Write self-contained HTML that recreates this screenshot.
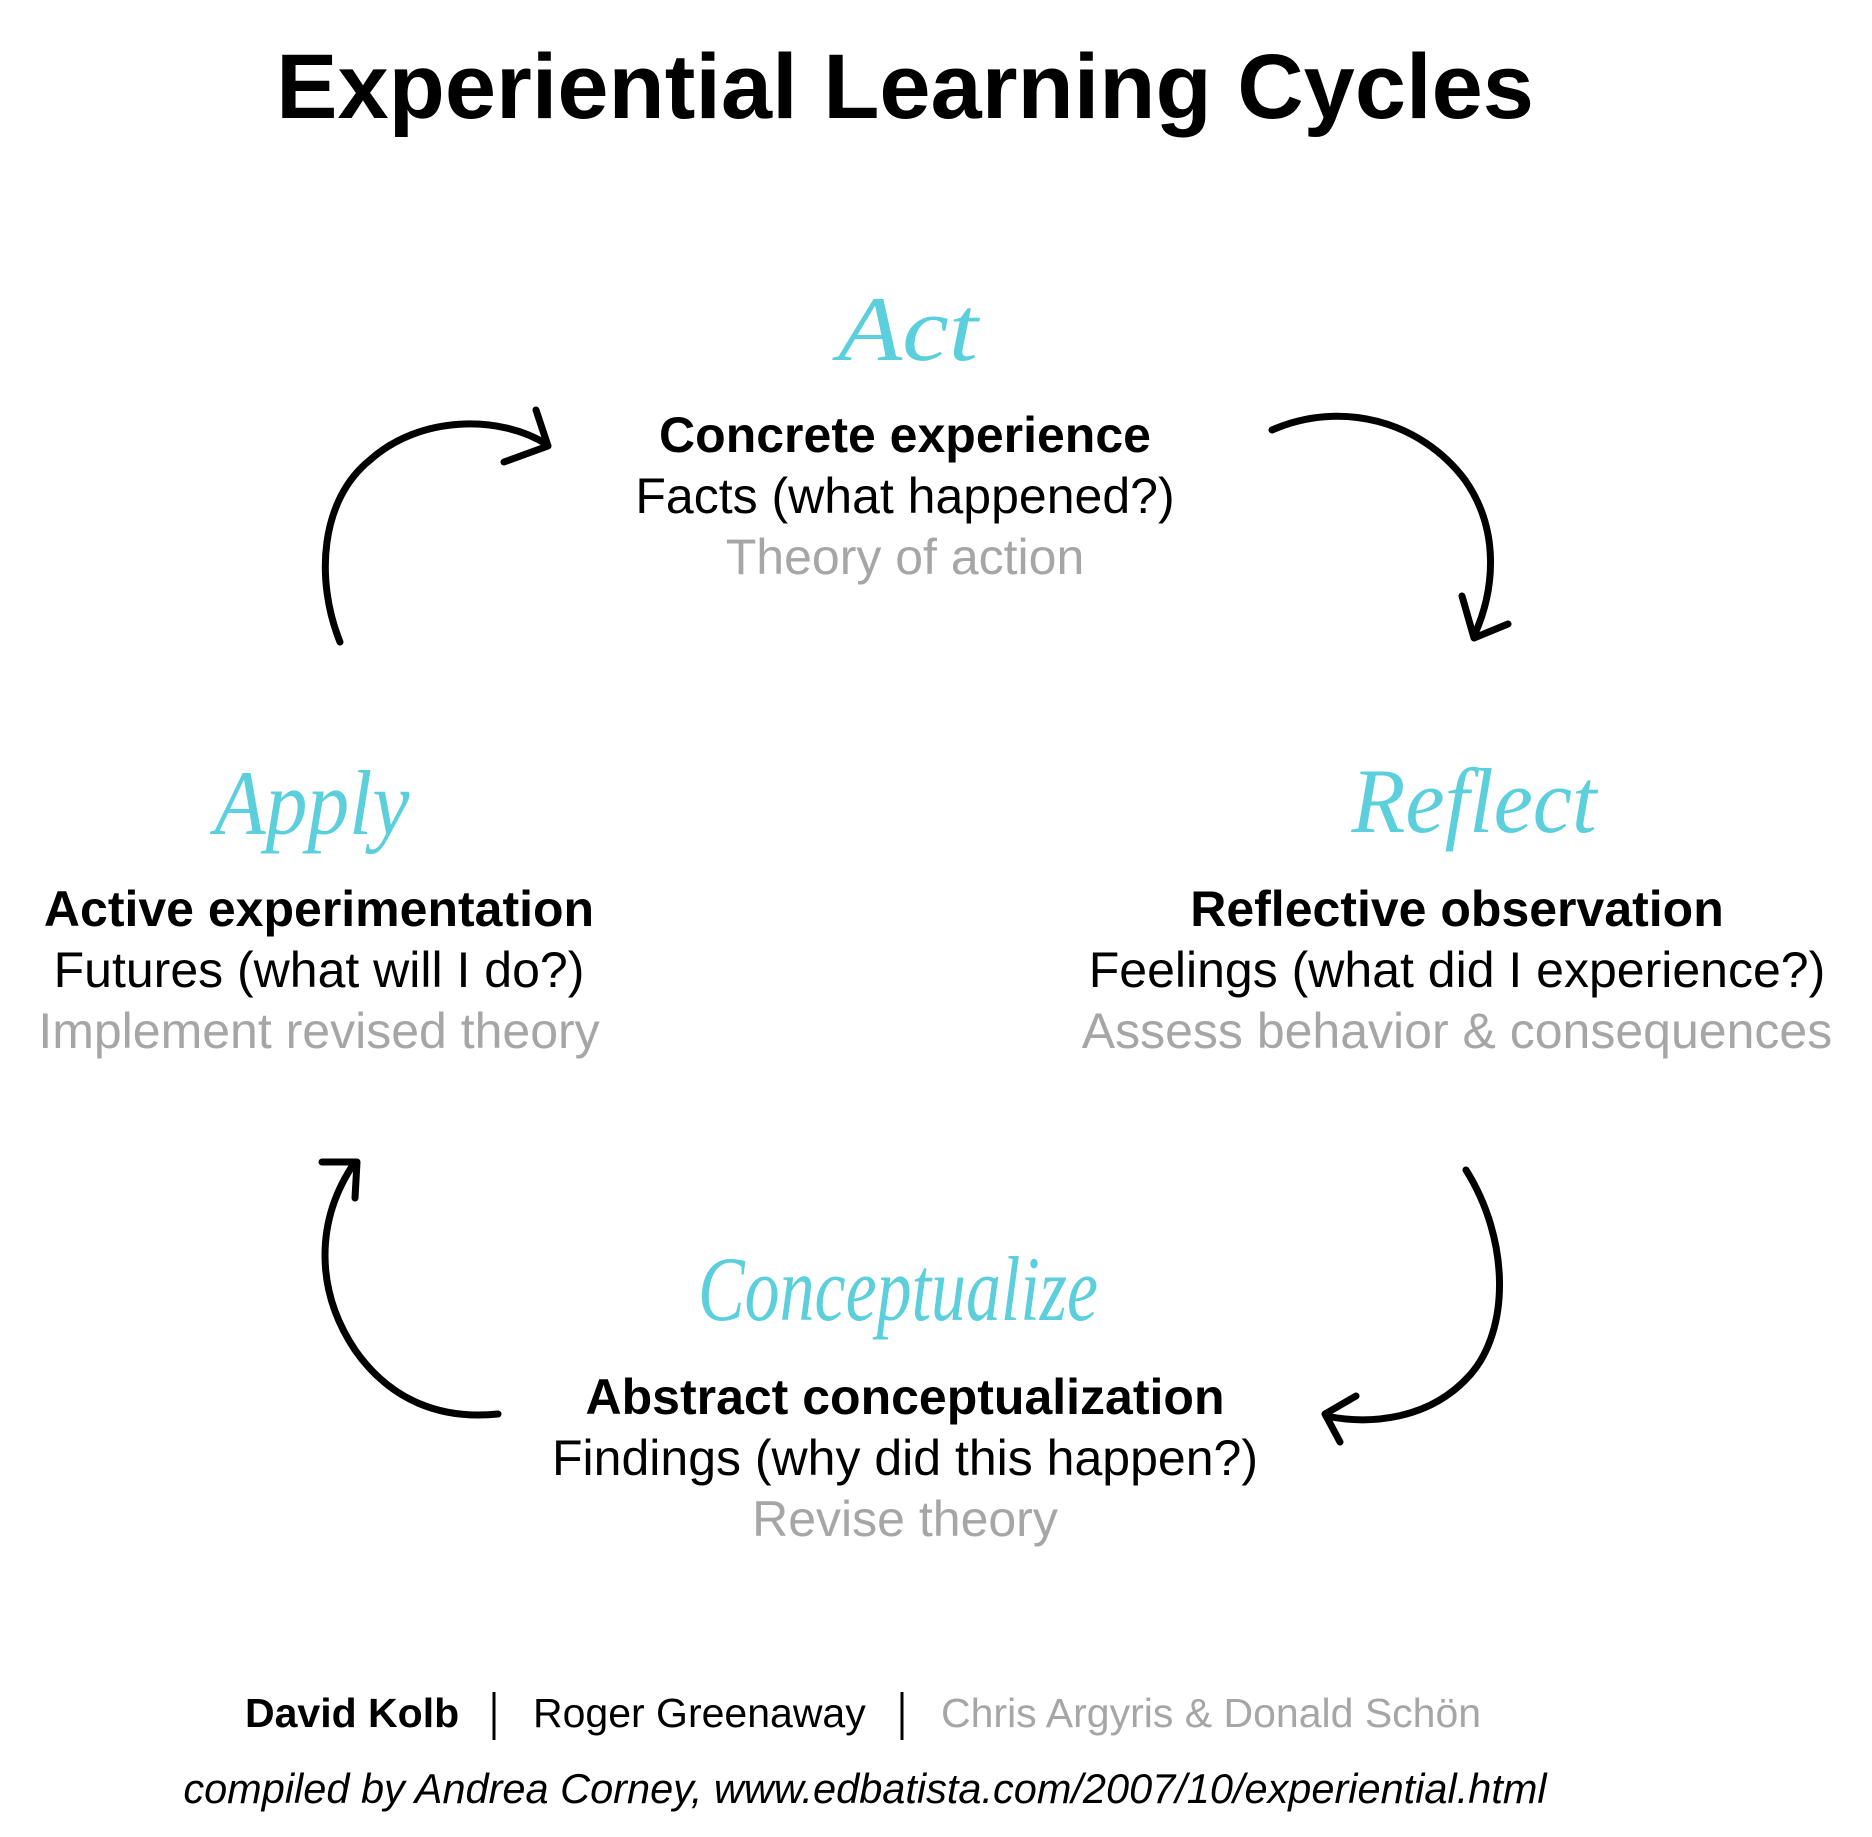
<!DOCTYPE html>
<html><head><meta charset="utf-8"><style>
html,body{margin:0;padding:0;background:#fff;}
svg{display:block;}
</style></head><body>
<svg width="1872" height="1837" viewBox="0 0 1872 1837" xmlns="http://www.w3.org/2000/svg">
<g font-family="Liberation Sans, Arial, sans-serif" text-anchor="middle">
<text x="905" y="118" font-size="92" font-weight="bold" fill="#000">Experiential Learning Cycles</text>

<g font-family="Liberation Serif, serif" font-style="italic" fill="#5ccfdc" font-size="92">
<text x="908" y="360" textLength="140" lengthAdjust="spacingAndGlyphs">Act</text>
<text x="312" y="834" textLength="195" lengthAdjust="spacingAndGlyphs">Apply</text>
<text x="1474" y="832" textLength="245" lengthAdjust="spacingAndGlyphs">Reflect</text>
<text x="898" y="1320" textLength="400" lengthAdjust="spacingAndGlyphs">Conceptualize</text>
</g>

<g font-size="50">
<text x="905" y="452" font-weight="bold">Concrete experience</text>
<text x="905" y="513">Facts (what happened?)</text>
<text x="905" y="574" fill="#a6a6a6">Theory of action</text>

<text x="319" y="926" font-weight="bold">Active experimentation</text>
<text x="319" y="987">Futures (what will I do?)</text>
<text x="319" y="1048" fill="#a6a6a6">Implement revised theory</text>

<text x="1457" y="926" font-weight="bold">Reflective observation</text>
<text x="1457" y="987">Feelings (what did I experience?)</text>
<text x="1457" y="1048" fill="#a6a6a6">Assess behavior &amp; consequences</text>

<text x="905" y="1414" font-weight="bold">Abstract conceptualization</text>
<text x="905" y="1475">Findings (why did this happen?)</text>
<text x="905" y="1536" fill="#a6a6a6">Revise theory</text>
</g>

<g font-size="41" text-anchor="start">
<text x="245" y="1727" font-weight="bold">David Kolb</text>
<text x="533" y="1727">Roger Greenaway</text>
<text x="941" y="1727" fill="#a6a6a6">Chris Argyris &amp; Donald Schön</text>
</g>
<line x1="494" y1="1692" x2="494" y2="1740" stroke="#000" stroke-width="3"/>
<line x1="902" y1="1692" x2="902" y2="1740" stroke="#000" stroke-width="3"/>
<text x="865" y="1803" font-size="41.5" font-style="italic">compiled by Andrea Corney, www.edbatista.com/2007/10/experiential.html</text>
</g>

<g fill="none" stroke="#000" stroke-width="7" stroke-linecap="round" stroke-linejoin="round">
<path d="M340,642 C315,580 320,500 370,460 C420,415 500,415 546,444"/>
<path d="M536,410 L548,446 L504,462"/>
<path d="M1272,430 C1340,400 1420,420 1465,480 C1500,530 1495,590 1474,636"/>
<path d="M1462,596 L1474,638 L1508,624"/>
<path d="M1466,1170 C1510,1240 1510,1330 1470,1375 C1430,1420 1370,1425 1326,1416"/>
<path d="M1356,1396 L1325,1414 L1340,1442"/>
<path d="M498,1414 C440,1420 390,1400 355,1350 C315,1290 315,1220 355,1162"/>
<path d="M322,1162 L357,1162 L355,1198"/>
</g>
</svg>
</body></html>
